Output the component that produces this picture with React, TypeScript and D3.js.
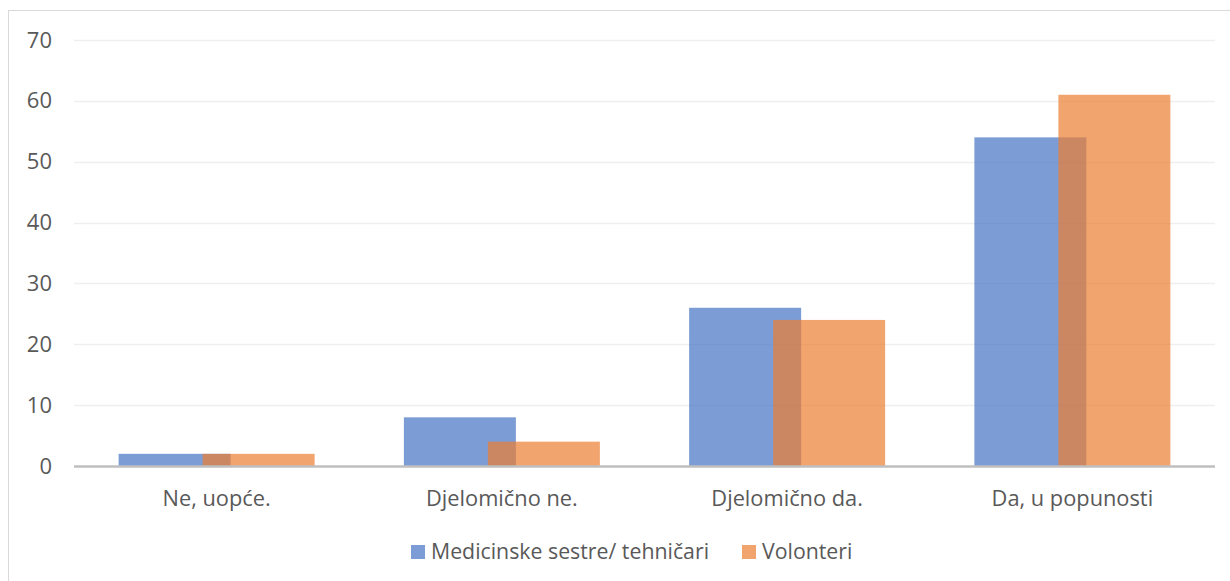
import React, { useEffect, useRef } from 'react'
import * as d3 from 'd3'

const categories = ['Ne, uopće.', 'Djelomično ne.', 'Djelomično da.', 'Da, u popunosti']
const nurses = [2, 8, 26, 54]
const volunteers = [2, 4, 24, 61]
const seriesNames = ['Medicinske sestre/ tehničari', 'Volonteri']
const yTicks = [0, 10, 20, 30, 40, 50, 60, 70]

const W = 1230
const H = 581
const left = 74
const right = 1215
const top = 40
const bottom = 466
const font = '"Open Sans", sans-serif'
const colors = ['rgba(68,114,196,0.7)', 'rgba(237,125,49,0.7)']

const x = d3.scaleBand().domain(categories).range([left, right]).padding(0)
const y = d3.scaleLinear().domain([0, 70]).range([bottom, top])

// bar width with 25% overlap between the two series
const barW = 112
const step = barW * 0.75

const App = () => {
  const ref = useRef<SVGSVGElement>(null)

  useEffect(() => {
    const svg = d3.select(ref.current)
    svg.selectAll('*').remove()

    svg
      .append('rect')
      .attr('x', 8.5)
      .attr('y', 10.5)
      .attr('width', W + 20)
      .attr('height', H + 20)
      .attr('fill', 'white')
      .attr('stroke', '#d9d9d9')

    svg
      .append('g')
      .selectAll('line')
      .data(yTicks.slice(1))
      .join('line')
      .attr('x1', left)
      .attr('x2', right)
      .attr('y1', (d) => Math.round(y(d)) + 0.5)
      .attr('y2', (d) => Math.round(y(d)) + 0.5)
      .attr('stroke', '#efefef')
      .attr('stroke-width', 1.5)

    svg
      .append('g')
      .selectAll('text')
      .data(yTicks)
      .join('text')
      .attr('x', 52)
      .attr('y', (d) => y(d) + 7.5)
      .attr('text-anchor', 'end')
      .attr('fill', '#595959')
      .attr('font-family', font)
      .attr('font-size', 22)
      .text((d) => d)

    const series = [nurses, volunteers]
    series.forEach((vals, s) => {
      svg
        .append('g')
        .selectAll('rect')
        .data(vals)
        .join('rect')
        .attr('x', (d, i) => x(categories[i])! + x.bandwidth() / 2 - (barW + step) / 2 + s * step)
        .attr('y', (d) => y(d))
        .attr('width', barW)
        .attr('height', (d) => y(0) - y(d))
        .attr('fill', colors[s])
    })

    svg
      .append('line')
      .attr('x1', left)
      .attr('x2', right)
      .attr('y1', y(0) + 0.5)
      .attr('y2', y(0) + 0.5)
      .attr('stroke', '#bfbfbf')
      .attr('stroke-width', 2.5)

    svg
      .append('g')
      .selectAll('text')
      .data(categories)
      .join('text')
      .attr('x', (d) => x(d)! + x.bandwidth() / 2)
      .attr('y', 506)
      .attr('text-anchor', 'middle')
      .attr('fill', '#595959')
      .attr('font-family', font)
      .attr('font-size', 21.8)
      .text((d) => d)

    const legendX = [411, 742]
    const lg = svg
      .append('g')
      .selectAll('g')
      .data(seriesNames)
      .join('g')
      .attr('transform', (d, i) => `translate(${legendX[i]},545)`)
    lg.append('rect')
      .attr('x', 0)
      .attr('y', 0)
      .attr('width', 14)
      .attr('height', 14)
      .attr('fill', (d, i) => colors[i])
    lg.append('text')
      .attr('x', 20)
      .attr('y', 14)
      .attr('fill', '#595959')
      .attr('font-family', font)
      .attr('font-size', 21.3)
      .text((d) => d)
  }, [])

  return (
    <svg
      ref={ref}
      width={W}
      height={H}
      style={{ position: 'absolute', left: 0, top: 0, background: 'white' }}
    />
  )
}

export default App
